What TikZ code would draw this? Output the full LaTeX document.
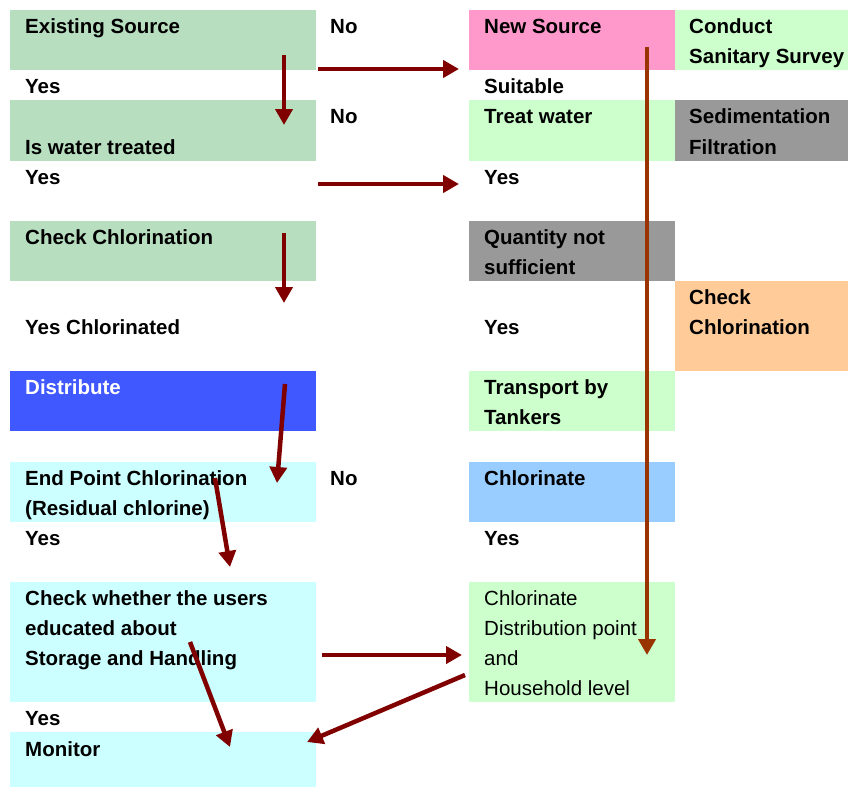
\documentclass[tikz,border=0pt]{standalone}
\usepackage{fontspec}
\setmainfont{Liberation Sans}
\usepackage{pgf,tikz}
\usetikzlibrary{arrows.meta}
\definecolor{bbdecq}{RGB}{184,222,192}
\definecolor{ccffcc}{rgb}{0.8,1,0.8}
\definecolor{ccffff}{rgb}{0.8,1,1}
\definecolor{ffzzcc}{rgb}{1,0.6,0.8}
\definecolor{ffcczz}{rgb}{1,0.8,0.6}
\definecolor{zzccff}{rgb}{0.6,0.8,1}
\definecolor{zzzzzz}{rgb}{0.6,0.6,0.6}
\definecolor{uqvvff}{RGB}{64,88,255}
\definecolor{wqqqqq}{rgb}{0.5,0,0}
\definecolor{zzttqq}{rgb}{0.6,0.2,0}

\begin{document}
\begin{tikzpicture}[line cap=butt,line join=round,>={Triangle[length=16pt,width=17pt]},x=1.0pt,y=-1.0pt,
    cell/.style={anchor=north west,inner sep=0pt,outer sep=0pt},
    txt/.style={anchor=base west,align=left,inner sep=0pt,font=\bfseries\fontsize{20.5}{30.1}\selectfont},
    plaintxt/.style={txt,font=\fontsize{20.5}{30.1}\selectfont},
    arr/.style={->,color=wqqqqq,line width=4.5pt}]
    \useasboundingbox (0,0) rectangle (848,787);
    % left column
    \node[cell,fill=bbdecq,minimum width=306pt,minimum height=60.2pt] (es) at (10,10) {};
    \node[cell,fill=bbdecq,minimum width=306pt,minimum height=60.2pt] (wt) at (10,100.3) {};
    \node[cell,fill=bbdecq,minimum width=306pt,minimum height=60.2pt] (cc) at (10,220.7) {};
    \node[cell,fill=uqvvff,minimum width=306pt,minimum height=60.2pt] (dist) at (10,371.2) {};
    \node[cell,fill=ccffff,minimum width=306pt,minimum height=60.2pt] (epc) at (10,461.5) {};
    \node[cell,fill=ccffff,minimum width=306pt,minimum height=120.4pt] (cwu) at (10,581.9) {};
    \node[cell,fill=ccffff,minimum width=306pt,minimum height=54.6pt] (mon) at (10,732.4) {};
    % right column
    \node[cell,fill=ffzzcc,minimum width=206pt,minimum height=60.2pt] (ns) at (469,10) {};
    \node[cell,fill=ccffcc,minimum width=206pt,minimum height=60.2pt] (tw) at (469,100.3) {};
    \node[cell,fill=zzzzzz,minimum width=206pt,minimum height=60.2pt] (qns) at (469,220.7) {};
    \node[cell,fill=ccffcc,minimum width=206pt,minimum height=60.2pt] (tt) at (469,371.2) {};
    \node[cell,fill=zzccff,minimum width=206pt,minimum height=60.2pt] (chl) at (469,461.5) {};
    \node[cell,fill=ccffcc,minimum width=206pt,minimum height=120.4pt] (cdh) at (469,581.9) {};
    \node[cell,fill=ccffcc,minimum width=173pt,minimum height=60.2pt] (css) at (675,10) {};
    \node[cell,fill=zzzzzz,minimum width=173pt,minimum height=60.2pt] (sf) at (675,100.3) {};
    \node[cell,fill=ffcczz,minimum width=173pt,minimum height=90.3pt] (occ) at (675,280.9) {};
    % texts (multi-line ones sit on their last line)
    \node[txt] (es-t) at (25,33.6) {Existing Source};
    \node[txt] (yes1) at (25,93.8) {Yes};
    \node[txt] (wt-t) at (25,154.1) {Is water treated};
    \node[txt] (yes2) at (25,184.1) {Yes};
    \node[txt] (cc-t) at (25,244.3) {Check Chlorination};
    \node[txt] (ycl) at (25,334.6) {Yes Chlorinated};
    \node[txt,text=white] (dist-t) at (25,394.8) {Distribute};
    \node[txt] (epc-t) at (25,515.2) {End Point Chlorination\\(Residual chlorine)};
    \node[txt] (yes3) at (25,545.3) {Yes};
    \node[txt] (cwu-t) at (25,665.7) {Check whether the users\\educated about\\Storage and Handling};
    \node[txt] (yes4) at (25,725.9) {Yes};
    \node[txt] (mon-t) at (25,756) {Monitor};
    \node[txt] (no1) at (330,33.6) {No};
    \node[txt] (no2) at (330,123.9) {No};
    \node[txt] (no3) at (330,485.1) {No};
    \node[txt] (ns-t) at (484,33.6) {New Source};
    \node[txt] (suit) at (484,93.8) {Suitable};
    \node[txt] (tw-t) at (484,123.9) {Treat water};
    \node[txt] (yes5) at (484,184.1) {Yes};
    \node[txt] (qns-t) at (484,274.4) {Quantity not\\sufficient};
    \node[txt] (yes6) at (484,334.6) {Yes};
    \node[txt] (tt-t) at (484,424.9) {Transport by\\Tankers};
    \node[txt] (chl-t) at (484,485.1) {Chlorinate};
    \node[txt] (yes7) at (484,545.3) {Yes};
    \node[plaintxt] (cdh-t) at (484,695.8) {Chlorinate\\Distribution point\\and\\Household level};
    \node[txt] (css-t) at (689,63.7) {Conduct\\Sanitary Survey};
    \node[txt] (sf-t) at (689,154) {Sedimentation\\Filtration};
    \node[txt] (occ-t) at (689,334.6) {Check\\Chlorination};
    % arrow ends
    \coordinate (es-out) at (284,55);
    \coordinate (wt-in) at (284,125);
    \coordinate (no1-out) at (318,69);
    \coordinate (ns-in) at (459,69);
    \coordinate (yes2-out) at (318,184);
    \coordinate (yes5-in) at (459,184);
    \coordinate (cc-out) at (284,233);
    \coordinate (ycl-in) at (284,303);
    \coordinate (dist-out) at (285,384);
    \coordinate (epc-in) at (277,483);
    \coordinate (epc-out) at (215,478);
    \coordinate (cwu-in) at (230,567);
    \coordinate (cwu-out) at (190,642);
    \coordinate (mon-in) at (230,747);
    \coordinate (cwu-right) at (322,655);
    \coordinate (cdh-in) at (462,655);
    \coordinate (cdh-out) at (465,675);
    \coordinate (mon-right) at (307,742);
    \coordinate (ns-out) at (647,47);
    \coordinate (cdh-top) at (647,655);
    \draw[arr] (es-out) -- (wt-in);
    \draw[arr] (no1-out) -- (ns-in);
    \draw[arr] (yes2-out) -- (yes5-in);
    \draw[arr] (cc-out) -- (ycl-in);
    \draw[arr] (dist-out) -- (epc-in);
    \draw[arr] (epc-out) -- (cwu-in);
    \draw[arr] (cwu-out) -- (mon-in);
    \draw[arr] (cwu-right) -- (cdh-in);
    \draw[arr] (cdh-out) -- (mon-right);
    \draw[arr,color=zzttqq] (ns-out) -- (cdh-top);
\end{tikzpicture}
\end{document}
